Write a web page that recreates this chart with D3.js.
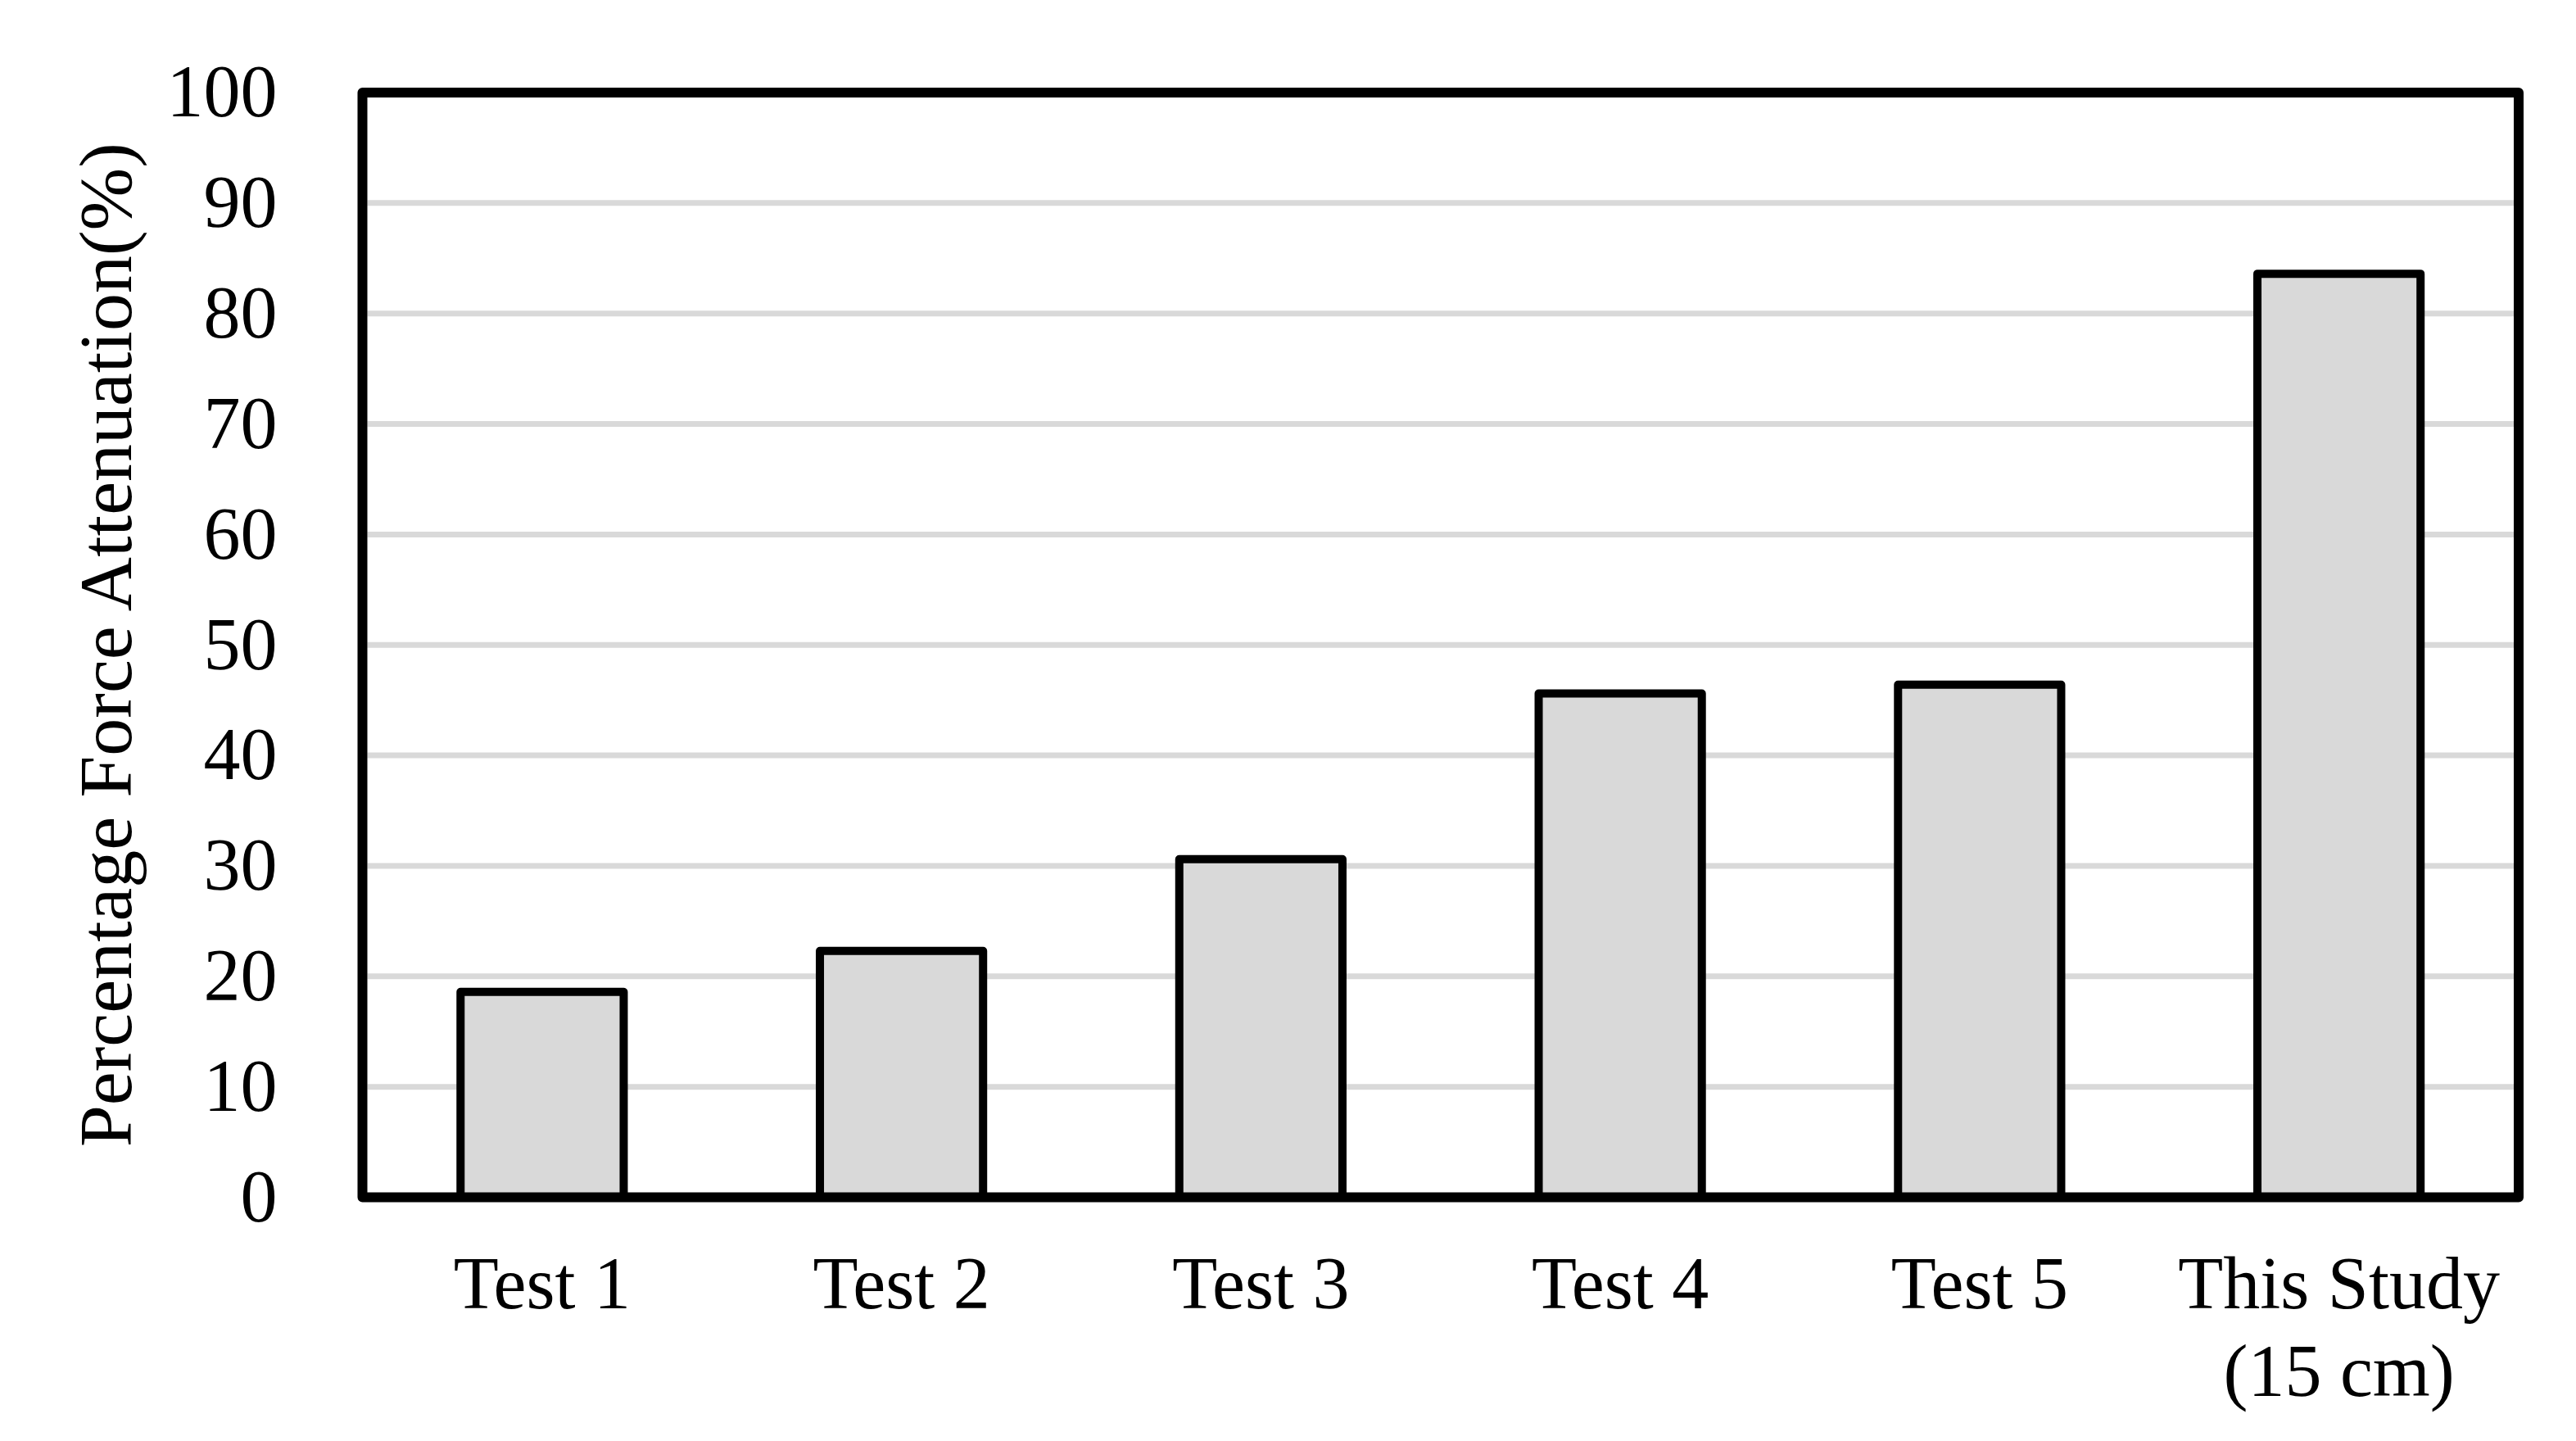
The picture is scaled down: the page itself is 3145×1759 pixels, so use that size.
<!DOCTYPE html>
<html>
<head>
<meta charset="utf-8">
<script src="https://cdn.jsdelivr.net/npm/d3@7"></script>
<style>
  html, body { margin: 0; padding: 0; background: #fff; }
  svg { display: block; }
  text { font-family: "Liberation Serif", "Times New Roman", serif; fill: #000; }
</style>
</head>
<body>
<script>
// ---- data ----
const categories = ["Test 1", "Test 2", "Test 3", "Test 4", "Test 5", "This Study (15 cm)"];
const categoryLines = [["Test 1"], ["Test 2"], ["Test 3"], ["Test 4"], ["Test 5"], ["This Study", "(15 cm)"]];
const values = [18.6, 22.3, 30.6, 45.6, 46.4, 83.6];
const yTicks = [0, 10, 20, 30, 40, 50, 60, 70, 80, 90, 100];
const yTitle = "Percentage Force Attenuation(%)";

// ---- layout ----
const W = 3145, H = 1759;
const pLeft = 442.5, pRight = 3075, pTop = 113, pBottom = 1461.5;
const fontSize = 90;

const svg = d3.select("body").append("svg")
  .attr("width", W).attr("height", H)
  .attr("viewBox", `0 0 ${W} ${H}`);
svg.append("rect").attr("width", W).attr("height", H).attr("fill", "#fff");

const x = d3.scaleBand().domain(categories).range([pLeft, pRight])
  .paddingInner(0.546).paddingOuter(0.273);
const y = d3.scaleLinear().domain([0, 100]).range([pBottom, pTop]);

// gridlines
svg.append("g").selectAll("line")
  .data(yTicks.filter(t => t > 0 && t < 100))
  .join("line")
  .attr("x1", pLeft + 6).attr("x2", pRight - 6)
  .attr("y1", d => y(d)).attr("y2", d => y(d))
  .attr("stroke", "#d9d9d9").attr("stroke-width", 7);

// bars
svg.append("g").selectAll("rect")
  .data(values)
  .join("rect")
  .attr("x", (d, i) => x(categories[i]))
  .attr("width", x.bandwidth())
  .attr("y", d => y(d))
  .attr("height", d => y(0) - y(d))
  .attr("fill", "#d9d9d9")
  .attr("stroke", "#000")
  .attr("stroke-width", 10)
  .attr("stroke-linejoin", "round");

// frame
svg.append("rect")
  .attr("x", pLeft).attr("y", pTop)
  .attr("width", pRight - pLeft).attr("height", pBottom - pTop)
  .attr("fill", "none").attr("stroke", "#000").attr("stroke-width", 12)
  .attr("stroke-linejoin", "round");

// y axis labels
const yAxis = d3.axisLeft(y).tickValues(yTicks).tickSize(0).tickPadding(104);
const gy = svg.append("g").attr("transform", `translate(${pLeft},0)`).call(yAxis);
gy.select(".domain").remove();
gy.selectAll("text")
  .attr("font-family", '"Liberation Serif", "Times New Roman", serif')
  .attr("font-size", fontSize)
  .attr("fill", "#000");

// x labels
const xl = svg.append("g").selectAll("text")
  .data(categoryLines)
  .join("text")
  .attr("text-anchor", "middle")
  .attr("font-size", fontSize)
  .attr("x", (d, i) => x(categories[i]) + x.bandwidth() / 2)
  .attr("y", 1597);
xl.selectAll("tspan")
  .data(d => d)
  .join("tspan")
  .attr("x", function() { return d3.select(this.parentNode).attr("x"); })
  .attr("dy", (d, i) => i === 0 ? 0 : 107)
  .text(d => d);

// y title
svg.append("text")
  .attr("transform", `translate(160, ${(pTop + pBottom) / 2}) rotate(-90)`)
  .attr("text-anchor", "middle")
  .attr("font-size", 92)
  .text(yTitle);
</script>
</body>
</html>
